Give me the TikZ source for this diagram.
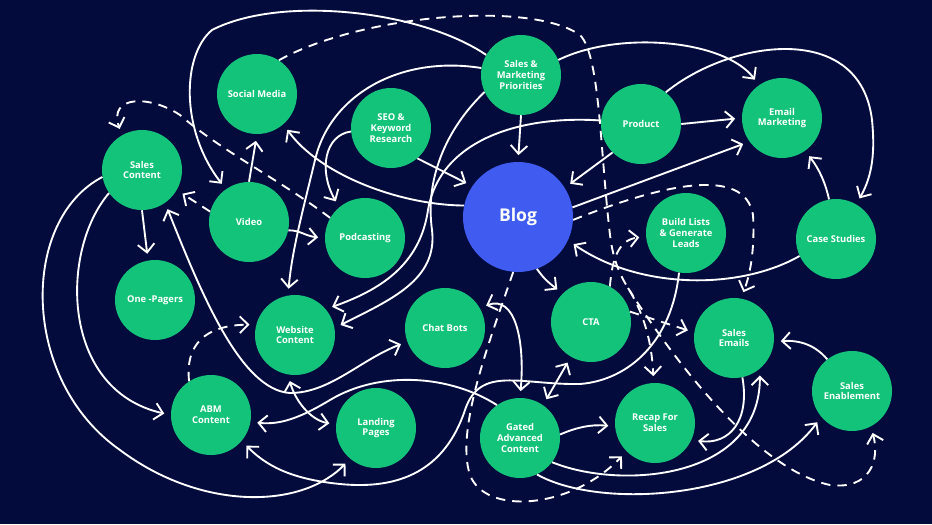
\documentclass[tikz,border=0pt]{standalone}
\usepackage{fontspec}
\setmainfont{Open Sans}
\usepackage{tikz}
\usetikzlibrary{arrows.meta}
\definecolor{navy}{HTML}{030B3D}
\definecolor{mint}{HTML}{14C37A}
\definecolor{blogblue}{HTML}{405CF0}

\begin{document}
\begin{tikzpicture}[
  x=0.03cm, y=-0.03cm,
  topic/.style={circle, fill=mint, text=white, align=center, inner sep=0pt,
    minimum size=2.4cm, font=\bfseries\fontsize{8}{9.2}\selectfont},
  hub/.style={circle, fill=blogblue, text=white, inner sep=0pt,
    minimum size=3.3cm, font=\bfseries\fontsize{15}{18}\selectfont},
  arrow/.style={-{Straight Barb[length=2.5mm,width=5mm]}, white, line width=1.6pt, shorten >=2mm},
  twoway/.style={{Straight Barb[length=2.5mm,width=5mm]}-{Straight Barb[length=2.5mm,width=5mm]},
    white, line width=1.6pt, shorten >=2mm, shorten <=2mm},
  dasharrow/.style={arrow, dash pattern=on 8pt off 6pt}
]
\useasboundingbox (0,0) rectangle (932,524);
\fill[navy] (0,0) rectangle (932,524);

% upper row
\node[topic] (smedia) at (257,94) {Social Media};
\node[topic] (seo) at (391,128) {SEO \&\\Keyword\\Research};
\node[topic] (smp) at (521,75) {Sales \&\\Marketing\\Priorities};
\node[topic] (product) at (641,124) {Product};
\node[topic] (email) at (782,118) {Email\\Marketing};

% middle
\node[hub] (blog) at (518,217) {Blog};
\node[topic] (scontent) at (142,170) {Sales\\Content};
\node[topic] (video) at (249,222) {Video};
\node[topic] (podcast) at (365,238) {Podcasting};
\node[topic] (build) at (686,233) {Build Lists\\\& Generate\\Leads};
\node[topic] (cases) at (836,239) {Case Studies};
\node[topic] (onepager) at (155,300) {One -Pagers};
\node[topic] (website) at (295,335) {Website\\Content};
\node[topic] (chatbots) at (445,328) {Chat Bots};
\node[topic] (cta) at (591,322) {CTA};
\node[topic] (semails) at (734,338) {Sales\\Emails};

% lower row
\node[topic] (abm) at (211,415) {ABM\\Content};
\node[topic] (landing) at (376,428) {Landing\\Pages};
\node[topic] (gated) at (520,438) {Gated\\Advanced\\Content};
\node[topic] (recap) at (655,423) {Recap For\\Sales};
\node[topic] (senable) at (852,391) {Sales\\Enablement};

% into the blog
\draw[arrow] (smp.south) -- (blog.north);
\draw[arrow] (seo.-49) -- (blog.146);
\draw[arrow] (product.225) -- (blog.32);
\draw[arrow] (cases.205) .. controls (740,290) and (640,290) .. (blog.-25);

% out of the blog
\draw[arrow] (blog.168) .. controls (400,205) and (320,175) .. (smedia.-49);
\draw[arrow] (blog.10) -- (email.216);
\draw[arrow] (blog.-70) .. controls (545,280) and (548,282) .. (cta.135);
\draw[dasharrow] (blog.-3) .. controls (660,185) and (745,165) .. (753,215)
  .. controls (755,250) and (750,275) .. (semails.80);
\draw[dasharrow] (blog.-95) .. controls (490,340) and (455,430) .. (470,475)
  .. controls (485,515) and (570,510) .. (recap.225);

% sales & marketing priorities
\draw[arrow] (smp.150) .. controls (420,10) and (280,-5) .. (212,30)
  .. controls (182,55) and (180,130) .. (video.125);
\draw[arrow] (smp.170) .. controls (400,55) and (330,95) .. (315,160)
  .. controls (303,210) and (292,250) .. (website.100);
\draw[arrow] (smp.205) .. controls (445,130) and (425,180) .. (432,230)
  .. controls (438,280) and (390,300) .. (website.10);
\draw[arrow] (smp.22) .. controls (620,30) and (725,40) .. (email.125);

% product
\draw[arrow] (product.east) -- (email.west);
\draw[arrow] (product.52) .. controls (730,40) and (860,20) .. (872,120)
  .. controls (875,150) and (873,175) .. (cases.60);
\draw[arrow] (product.175) .. controls (520,115) and (440,140) .. (428,210)
  .. controls (420,265) and (380,290) .. (website.40);
\draw[arrow] (cases.100) .. controls (826,185) and (820,170) .. (email.-55);

% social media, video, podcasting
\coordinate (fork) at (628,288);
\draw[dasharrow] (smedia.57) .. controls (360,15) and (530,0) .. (580,35)
  .. controls (600,55) and (600,150) .. (610,235)
  .. controls (613,260) and (620,275) .. (fork)
  .. controls (645,315) and (652,345) .. (recap.92);
\draw[dasharrow] (fork) .. controls (680,370) and (760,470) .. (830,485)
  .. controls (870,490) and (880,460) .. (senable.-62);
\draw[arrow] (video.north) -- (smedia.south);
\draw[arrow] (video.-12) .. controls (300,230) and (305,236) .. (podcast.180);
\draw[dasharrow] (video.165) -- (scontent.-30);
\draw[dasharrow] (podcast.150) .. controls (280,180) and (220,150) .. (180,115)
  .. controls (150,95) and (108,95) .. (scontent.120);
\draw[arrow] (seo.185) .. controls (325,135) and (318,170) .. (podcast.130);

% sales content
\draw[arrow] (scontent.south) -- (onepager.100);
\draw[arrow] (scontent.215) .. controls (60,250) and (60,390) .. (abm.180);
\draw[arrow] (scontent.190) .. controls (20,220) and (20,380) .. (120,450)
  .. controls (200,510) and (300,510) .. (landing.230);
\draw[twoway] (scontent.-55) .. controls (200,290) and (240,390) .. (290,393)
  .. controls (330,393) and (360,360) .. (chatbots.200);

% website, abm, landing pages
\draw[dasharrow] (abm.123) .. controls (185,345) and (205,325) .. (website.165);
\draw[twoway] (website.-100) .. controls (295,400) and (310,420) .. (landing.175);

% build lists, cta
\draw[arrow] (build.-100) .. controls (672,340) and (630,380) .. (580,384)
  .. controls (520,385) and (480,365) .. (465,410)
  .. controls (445,470) and (400,490) .. (340,484)
  .. controls (300,480) and (270,470) .. (abm.-40);
\draw[dasharrow] (cta.62) .. controls (612,260) and (618,240) .. (build.185);
\draw[dasharrow] (cta.15) -- (semails.172);
\draw[twoway] (cta.-120) -- (gated.55);

% gated advanced content
\draw[arrow] (gated.125) .. controls (450,375) and (380,370) .. (330,400)
  .. controls (300,418) and (280,425) .. (abm.-10);
\draw[twoway] (chatbots.30) .. controls (515,295) and (525,340) .. (gated.90);
\draw[arrow] (gated.5) .. controls (575,428) and (590,424) .. (recap.185);
\draw[arrow] (gated.-37) .. controls (620,490) and (760,480) .. (semails.-50);
\draw[arrow] (gated.-65) .. controls (600,510) and (760,500) .. (senable.220);

% sales emails, enablement
\draw[arrow] (semails.-78) .. controls (750,420) and (730,445) .. (recap.-25);
\draw[arrow] (senable.128) .. controls (815,345) and (800,340) .. (semails.-5);

\end{tikzpicture}
\end{document}
